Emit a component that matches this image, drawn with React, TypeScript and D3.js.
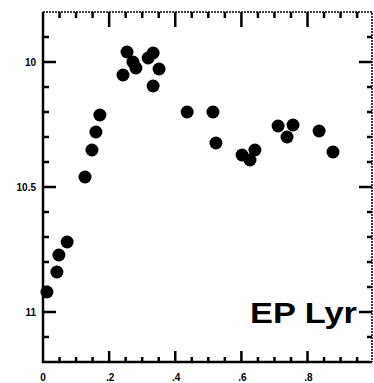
import React from "react";
import * as d3 from "d3";

const phase = [0.012, 0.042, 0.048, 0.073, 0.127, 0.148, 0.16, 0.172, 0.242, 0.254, 0.272, 0.281, 0.318, 0.333, 0.351, 0.333, 0.436, 0.514, 0.523, 0.602, 0.626, 0.641, 0.711, 0.738, 0.756, 0.835, 0.877];
const mag = [10.92, 10.84, 10.772, 10.72, 10.46, 10.352, 10.28, 10.212, 10.052, 9.96, 10.0, 10.024, 9.984, 9.964, 10.028, 10.096, 10.2, 10.2, 10.324, 10.372, 10.392, 10.352, 10.256, 10.3, 10.252, 10.276, 10.36];
const xTickLabels = ["0", ".2", ".4", ".6", ".8"];
const xTickValues = [0, 0.2, 0.4, 0.6, 0.8];
const xMinorValues = [0.05, 0.1, 0.15, 0.25, 0.3, 0.35, 0.45, 0.5, 0.55, 0.65, 0.7, 0.75, 0.85, 0.9, 0.95];
const yTickLabels = ["10", "10.5", "11"];
const yTickValues = [10, 10.5, 11];
const yMinorValues = [9.9, 10.1, 10.2, 10.3, 10.4, 10.6, 10.7, 10.8, 10.9, 11.1];
const title = "EP Lyr";

const W = 374;
const H = 383;

export default function App() {
  const left = 43, right = 372, top = 12, bottom = 362;
  const x = d3.scaleLinear().domain([0, 0.995]).range([left, right]);
  const y = d3.scaleLinear().domain([9.8, 11.2]).range([top, bottom]);
  const font = "'Liberation Sans', Arial, sans-serif";

  // solid frame (left + bottom) together with all tick marks
  const solid = d3.path();
  solid.moveTo(left, top);
  solid.lineTo(left, bottom);
  solid.lineTo(right, bottom);
  xTickValues.slice(1).forEach((v) => {
    solid.moveTo(x(v), bottom);
    solid.lineTo(x(v), bottom - 11);
    solid.moveTo(x(v), top);
    solid.lineTo(x(v), top + 15);
  });
  xMinorValues.forEach((v) => {
    solid.moveTo(x(v), bottom);
    solid.lineTo(x(v), bottom - 5);
    solid.moveTo(x(v), top);
    solid.lineTo(x(v), top + 6);
  });
  yTickValues.forEach((v) => {
    solid.moveTo(left, y(v));
    solid.lineTo(left + 13, y(v));
    solid.moveTo(right, y(v));
    solid.lineTo(right - 13, y(v));
  });
  yMinorValues.forEach((v) => {
    solid.moveTo(left, y(v));
    solid.lineTo(left + 6, y(v));
    solid.moveTo(right, y(v));
    solid.lineTo(right - 5, y(v));
  });

  const dashed = d3.path();
  dashed.moveTo(left, top);
  dashed.lineTo(right, top);
  dashed.lineTo(right, bottom);

  return (
    <svg
      width={W}
      height={H}
      style={{ position: "absolute", left: 0, top: 0, background: "#fff" }}
    >
      <path d={solid.toString()} fill="none" stroke="#000" strokeWidth={2.5} />
      <path d={dashed.toString()} fill="none" stroke="#000" strokeWidth={1.5} strokeDasharray="2 1" />

      {xTickValues.map((v, i) => (
        <text
          key={"xlab" + i}
          x={x(v) + (i === 0 ? 0 : 1)}
          y={381}
          textAnchor="middle"
          fontFamily={font}
          fontWeight="bold"
          fontSize={10}
        >
          {xTickLabels[i]}
        </text>
      ))}
      {yTickValues.map((v, i) => (
        <text
          key={"ylab" + i}
          x={36}
          y={y(v) + 3.5}
          textAnchor="end"
          fontFamily={font}
          fontWeight="bold"
          fontSize={10}
        >
          {yTickLabels[i]}
        </text>
      ))}

      {phase.map((pp, i) => (
        <circle key={"p" + i} cx={x(pp)} cy={y(mag[i])} r={6.5} fill="#000" />
      ))}

      <text
        x={250}
        y={323}
        fontFamily={font}
        fontWeight="bold"
        fontSize={29}
        textLength={107}
        lengthAdjust="spacingAndGlyphs"
      >
        {title}
      </text>
    </svg>
  );
}
